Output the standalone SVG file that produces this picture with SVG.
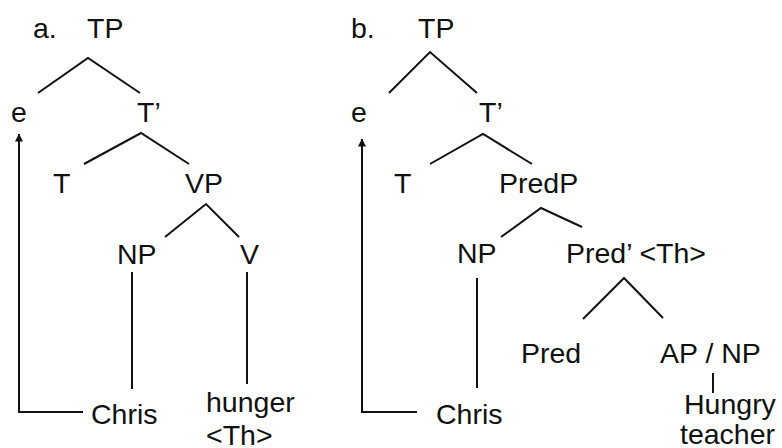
<svg xmlns="http://www.w3.org/2000/svg" width="782" height="448" viewBox="0 0 782 448">
  <style>
    text { font-family: "Liberation Sans", Arial, sans-serif; font-size: 28.5px; fill: #111; }
    .edge { stroke: #111; stroke-width: 2; fill: none; stroke-linecap: butt; }
  </style>
  <defs>
    <marker id="arrow" viewBox="0 0 8 8" refX="7.5" refY="4" markerWidth="8" markerHeight="8" markerUnits="userSpaceOnUse" orient="auto">
      <path d="M0,0 L8,4 L0,8 Z" fill="#111"/>
    </marker>
  </defs>
  <rect width="782" height="448" fill="#fff"/>

  <!-- Tree a: labels -->
  <text id="label-a" x="33" y="38">a.</text>
  <g id="a-TP"><text x="87" y="38">TP</text></g>
  <g id="a-e"><text x="11" y="122">e</text></g>
  <g id="a-Tbar"><text x="137" y="122">T’</text></g>
  <g id="a-T"><text x="53" y="193">T</text></g>
  <g id="a-VP"><text x="185" y="193">VP</text></g>
  <g id="a-NP"><text x="117" y="264">NP</text></g>
  <g id="a-V"><text x="240" y="264">V</text></g>
  <g id="a-Chris"><text x="91" y="424">Chris</text></g>
  <g id="a-hunger"><text x="206" y="412">hunger</text><text x="206" y="445">&lt;Th&gt;</text></g>

  <!-- Tree b: labels -->
  <text id="label-b" x="351" y="38">b.</text>
  <g id="b-TP"><text x="418" y="38">TP</text></g>
  <g id="b-e"><text x="351" y="122">e</text></g>
  <g id="b-Tbar"><text x="479" y="122">T’</text></g>
  <g id="b-T"><text x="394" y="193">T</text></g>
  <g id="b-PredP"><text x="499" y="193">PredP</text></g>
  <g id="b-NP"><text x="457" y="263">NP</text></g>
  <g id="b-Predbar"><text x="566" y="263">Pred’ &lt;Th&gt;</text></g>
  <g id="b-Pred"><text x="521" y="363">Pred</text></g>
  <g id="b-APNP"><text x="660" y="363">AP / NP</text></g>
  <g id="b-Chris"><text x="436" y="424">Chris</text></g>
  <g id="b-hungry"><text x="684" y="414">Hungry</text><text x="680" y="444">teacher</text></g>

  <!-- Branches and movement arrows -->
  <g id="connectors" class="edge">
    <!-- tree a -->
    <polyline points="38,93 88,58 140,93"/>
    <polyline points="84,164 141,133 189,164"/>
    <polyline points="165,237 206,204 239,237"/>
    <line x1="132" y1="272" x2="132" y2="389"/>
    <line x1="247" y1="272" x2="247" y2="384"/>
    <polyline points="83,412 19,412 19,134" marker-end="url(#arrow)"/>
    <!-- tree b -->
    <polyline points="389,93 430,52 477,93"/>
    <polyline points="430,164 483,134 532,164"/>
    <polyline points="501,237 541,208 582,227"/>
    <line x1="477" y1="278" x2="477" y2="388"/>
    <polyline points="583,319 624,278 663,318"/>
    <line x1="713" y1="373" x2="713" y2="393"/>
    <polyline points="417,412 362,412 362,139" marker-end="url(#arrow)"/>
  </g>
</svg>
